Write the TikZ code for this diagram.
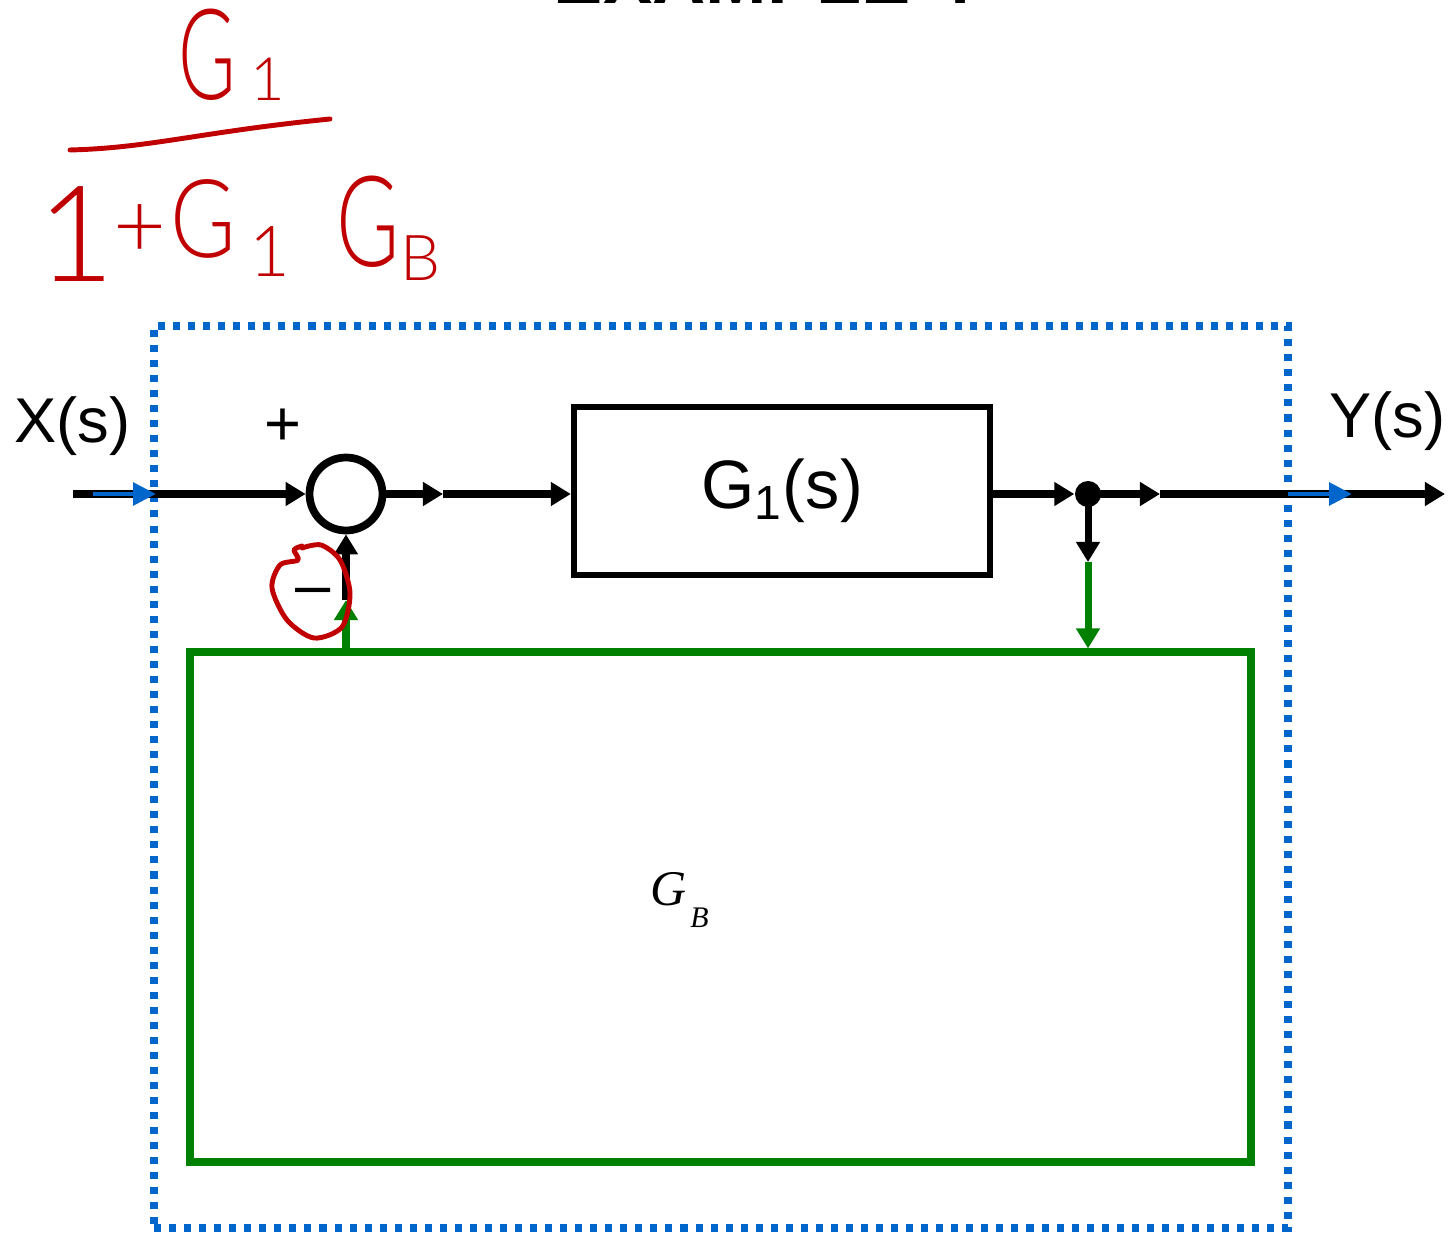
\documentclass[tikz,border=0pt]{standalone}
\usepackage{fontspec}
\usepackage{graphicx}
\setmainfont{Liberation Sans}
\newfontfamily\timesfont{Liberation Serif}
\newfontfamily\inkfont{Lato}[UprightFont=* Light]
\usetikzlibrary{arrows.meta}
\definecolor{fbgreen}{RGB}{0,128,0}
\definecolor{bndblue}{RGB}{0,102,204}
\definecolor{inkred}{RGB}{192,0,0}
\begin{document}
\begin{tikzpicture}[x=0.1mm,y=-0.1mm,
 sig/.style={line width=2pt,-{Triangle[length=5.7pt,width=6.5pt]}},
 gsig/.style={sig,fbgreen},
 bsig/.style={line width=1.4pt,bndblue,-{Triangle[length=6.5pt,width=6.3pt]}},
 blockbox/.style={draw,line width=1.8pt,minimum width=41.6mm,minimum height=16.8mm,inner sep=0,font=\fontsize{19.5}{22}\selectfont},
 sumnode/.style={circle,draw,line width=2.2pt,minimum size=7.3mm,inner sep=0},
 junction/.style={circle,fill,minimum size=2.6mm,inner sep=0},
 fbbox/.style={draw=fbgreen,line width=2pt,minimum width=106.1mm,minimum height=51mm,inner sep=0},
 boundary/.style={draw=bndblue,line width=2pt,dash pattern=on 2pt off 2.28pt,minimum width=113.4mm,minimum height=90.2mm,inner sep=0},
 lbl/.style={inner sep=0,font=\fontsize{18}{20}\selectfont},
 ink/.style={inkred,line width=1.4pt,line cap=round,line join=round},
 inktxt/.style={inkred,inner sep=0},
]
\useasboundingbox (0,0) rectangle (1448,1238);
\begin{scope}
\clip (0,0) rectangle (1448,1238);
\node[inner sep=0,anchor=base,font=\bfseries\fontsize{21}{24}\selectfont] (title) at (763,4) {EXAMPLE 4};
\end{scope}

% handwritten formula
\node[inktxt,font=\inkfont\fontsize{36}{40}\selectfont] (numG) at (207,55) {\scalebox{0.62}[1]{G}};
\node[inktxt,font=\inkfont\fontsize{17}{20}\selectfont] (num1) at (268,79) {1};
\draw[ink] (70,150) .. controls (150,148) and (200,132) .. (330,119);
\node[inktxt,font=\inkfont\fontsize{38}{42}\selectfont] (d1) at (76,234) {1};
\node[inktxt,font=\inkfont\fontsize{26}{30}\selectfont] (dplus) at (140,231) {+};
\node[inktxt,font=\inkfont\fontsize{31}{34}\selectfont] (dG) at (203,219) {\scalebox{0.82}[1]{G}};
\node[inktxt,font=\inkfont\fontsize{20}{24}\selectfont] (d1b) at (270,252) {1};
\node[inktxt,font=\inkfont\fontsize{36}{40}\selectfont] (dG2) at (368,222) {\scalebox{0.68}[1]{G}};
\node[inktxt,font=\inkfont\fontsize{18}{22}\selectfont] (dB) at (420,258) {B};

% boxes
\node[fbbox] (gb) at (720.5,907) {};
\node[inner sep=0,anchor=base west] (gbl) at (650,905) {\timesfont\itshape\fontsize{14.2}{16}\selectfont G\hspace{1pt}\raisebox{-6.5pt}{\fontsize{8.5}{9}\selectfont B}};
\node[boundary] (bnd) at (721,777) {};
\node[blockbox] (g1) at (782,491) {G\textsubscript{1}(s)};
\node[sumnode] (sum) at (346,494) {};
\node[junction] (jn) at (1088,494) {};

% labels
\node[lbl,anchor=base west] (xl) at (14,443) {X(s)};
\node[lbl,anchor=base west] (yl) at (1329,438) {Y(s)};
\node[lbl] (pl) at (283,427) {+};
\node[lbl] (ml) at (313,597) {\textendash};

% coordinates
\coordinate (xin) at (73,494);
\coordinate (m1) at (443,494);
\coordinate (m2) at (1160,494);
\coordinate (yout) at (1445,494);
\coordinate (br) at (1088,562);
\coordinate (fb) at (346,600);
\coordinate (b1s) at (93,494);
\coordinate (b1e) at (156,494);
\coordinate (b2s) at (1288,494);
\coordinate (b2e) at (1352,494);

% signal lines
\draw[sig] (xin) -- (sum.west);
\draw[sig] (sum.east) -- (m1);
\draw[sig] (m1) -- (m1 -| g1.west);
\draw[sig] (g1.east |- jn) -- (jn.west);
\draw[sig] (jn.center) -- (m2);
\draw[sig] (m2) -- (yout);
\draw[sig] (jn.center) -- (br);
\draw[gsig] (br) -- (br |- gb.north);
\draw[gsig] (fb |- gb.north) -- (fb);
\draw[sig] (fb) -- (sum.south);

% boundary crossing arrows
\draw[bsig] (b1s) -- (b1e);
\draw[bsig] (b2s) -- (b2e);

% red circled minus
\draw[ink] plot[smooth] coordinates {(302,548) (321,545) (340,560) (350,593) (342,627) (314,638) (287,620) (272,588) (280,565) (298,560) (294,550) (302,546)};
\end{tikzpicture}
\end{document}
